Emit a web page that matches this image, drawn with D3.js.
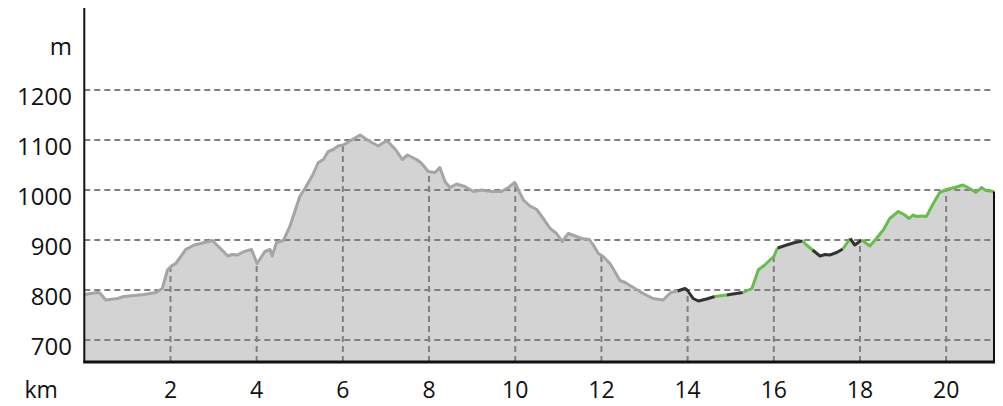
<!DOCTYPE html>
<html>
<head>
<meta charset="utf-8">
<script src="https://cdn.jsdelivr.net/npm/d3@7"></script>
<style>
  body { margin: 0; background: #fff; }
  text { font-family: "Open Sans", sans-serif; font-size: 24px; fill: #111; }
  text.xlabel { font-size: 23px; }
</style>
</head>
<body>
<script>
// profile: distance in km, elevation in m
var distance = [0.00, 0.30, 0.36, 0.50, 0.77, 0.92, 1.39, 1.66, 1.81, 1.93, 2.02, 2.12, 2.24, 2.35, 2.55, 2.89, 2.97,
  3.16, 3.33, 3.43, 3.55, 3.71, 3.88, 4.01, 4.19, 4.31, 4.36, 4.46, 4.62, 4.77, 5.00, 5.12, 5.30, 5.43, 5.55,
  5.66, 5.78, 5.89, 6.01, 6.20, 6.40, 6.59, 6.82, 7.02, 7.23, 7.38, 7.50, 7.71, 7.83, 7.98, 8.14, 8.25, 8.37,
  8.48, 8.64, 8.83, 9.03, 9.22, 9.45, 9.68, 9.84, 9.99, 10.09, 10.19, 10.34, 10.50, 10.65, 10.81, 10.96, 11.09,
  11.23, 11.39, 11.54, 11.72, 11.81, 11.93, 12.04, 12.20, 12.31, 12.43, 12.55, 12.74, 12.97, 13.20, 13.43,
  13.61, 13.77, 13.94, 13.99, 14.13, 14.25, 14.44, 14.63, 14.91, 15.05, 15.28, 15.49, 15.54, 15.64, 15.68,
  15.79, 15.91, 16.00, 16.06, 16.09, 16.30, 16.49, 16.67, 16.76, 16.90, 17.07, 17.19, 17.30, 17.46, 17.60,
  17.77, 17.88, 18.04, 18.23, 18.38, 18.54, 18.69, 18.89, 19.04, 19.14, 19.23, 19.31, 19.43, 19.54, 19.70,
  19.85, 20.01, 20.20, 20.39, 20.55, 20.69, 20.82, 20.92, 21.11];
var elevation = [791, 795, 794, 780, 783, 787, 791, 795, 803, 840, 848, 853, 867, 881, 890, 897, 899,
  883, 868, 871, 870, 877, 881, 853, 877, 881, 868, 895, 899, 927, 987, 1003, 1030, 1055, 1061,
  1077, 1081, 1088, 1090, 1100, 1110, 1099, 1088, 1099, 1080, 1061, 1070, 1061, 1053, 1037, 1035, 1045, 1017,
  1005, 1012, 1007, 997, 1000, 997, 997, 1005, 1015, 997, 980, 968, 961, 943, 923, 913, 897,
  913, 908, 903, 901, 890, 873, 867, 853, 837, 819, 815, 805, 793, 783, 780,
  795, 798, 803, 800, 783, 778, 782, 787, 790, 792, 795, 803, 815, 840, 843,
  850, 860, 867, 879, 884, 890, 895, 898, 890, 880, 868, 871, 870, 875, 882,
  903, 890, 900, 888, 903, 920, 943, 957, 950, 943, 950, 947, 948, 947, 973,
  995, 1001, 1005, 1010, 1003, 995, 1005, 999, 997];

// coloured stretches of the route (km from, km to, kind)
var segStart = [0, 13.77, 14.63, 14.91, 15.28, 16.09, 16.67, 16.90, 17.60, 17.77, 18.04];
var segEnd   = [13.77, 14.63, 14.91, 15.28, 16.09, 16.67, 16.90, 17.60, 17.77, 18.04, 21.11];
var segKind  = ['done', 'road', 'trail', 'road', 'trail', 'road', 'trail', 'road', 'trail', 'road', 'trail'];

var yTicks = [700, 800, 900, 1000, 1100, 1200];
var xTicks = [2, 4, 6, 8, 10, 12, 14, 16, 18, 20];

var width = 1003, height = 406;
var kindColor = { done: '#a5a5a5', road: '#333333', trail: '#69bd4c' };

var data = distance.map(function(d, i) { return { km: d, m: elevation[i] }; });

var x = d3.scaleLinear().domain([0, 21.11]).range([84.3, 994]);
var y = d3.scaleLinear().domain([656, 1364]).range([362, 8]);

var svg = d3.select('body').append('svg')
    .attr('width', width)
    .attr('height', height);

var area = d3.area()
    .x(function(d) { return x(d.km); })
    .y0(y(656))
    .y1(function(d) { return y(d.m); });

var line = d3.line()
    .x(function(d) { return x(d.km); })
    .y(function(d) { return y(d.m); });

svg.append('clipPath')
    .attr('id', 'under')
  .append('path')
    .attr('d', area(data));

svg.append('path')
    .attr('d', area(data))
    .style('fill', '#d3d3d3');

// horizontal grid
svg.selectAll('.hgrid')
    .data(yTicks)
  .enter().append('line')
    .attr('class', 'hgrid')
    .attr('x1', x(0))
    .attr('x2', x(21.11))
    .attr('y1', function(d) { return y(d); })
    .attr('y2', function(d) { return y(d); })
    .style('stroke', '#808080')
    .style('stroke-width', 2)
    .style('stroke-dasharray', '6,4');

// vertical grid only below the profile
svg.append('g')
    .attr('clip-path', 'url(#under)')
  .selectAll('.vgrid')
    .data(xTicks)
  .enter().append('line')
    .attr('class', 'vgrid')
    .attr('x1', function(d) { return x(d); })
    .attr('x2', function(d) { return x(d); })
    .attr('y1', y(656))
    .attr('y2', y(1364))
    .style('stroke', '#808080')
    .style('stroke-width', 2)
    .style('stroke-dasharray', '6,4');

// profile line, one path per stretch
segStart.forEach(function(s, i) {
  var e = segEnd[i];
  var pts = data.filter(function(d) { return d.km >= s - 1e-6 && d.km <= e + 1e-6; });
  svg.append('path')
      .attr('d', line(pts))
      .style('fill', 'none')
      .style('stroke', kindColor[segKind[i]])
      .style('stroke-width', 3)
      .style('stroke-linejoin', 'round');
});

// right edge of the area
var last = data[data.length - 1];
svg.append('line')
    .attr('x1', x(last.km)).attr('x2', x(last.km))
    .attr('y1', y(last.m)).attr('y2', y(656))
    .style('stroke', '#111')
    .style('stroke-width', 2);

// axes
svg.append('line')
    .attr('x1', x(0)).attr('x2', x(0))
    .attr('y1', y(1364)).attr('y2', y(656) + 1)
    .style('stroke', '#111')
    .style('stroke-width', 2);
svg.append('line')
    .attr('x1', x(0) - 1).attr('x2', x(21.11) + 1)
    .attr('y1', y(656)).attr('y2', y(656))
    .style('stroke', '#111')
    .style('stroke-width', 3);

svg.selectAll('.ylabel')
    .data(yTicks.concat([1300]))
  .enter().append('text')
    .attr('class', 'ylabel')
    .attr('x', 72)
    .attr('y', function(d) { return y(d) + 15; })
    .style('text-anchor', 'end')
    .text(function(d) { return d === 1300 ? 'm' : d; });

svg.selectAll('.xlabel')
    .data([-1].concat(xTicks))
  .enter().append('text')
    .attr('class', 'xlabel')
    .attr('x', function(d) { return x(d); })
    .attr('y', 398)
    .style('text-anchor', 'middle')
    .text(function(d) { return d === -1 ? 'km' : d; });
</script>
</body>
</html>
